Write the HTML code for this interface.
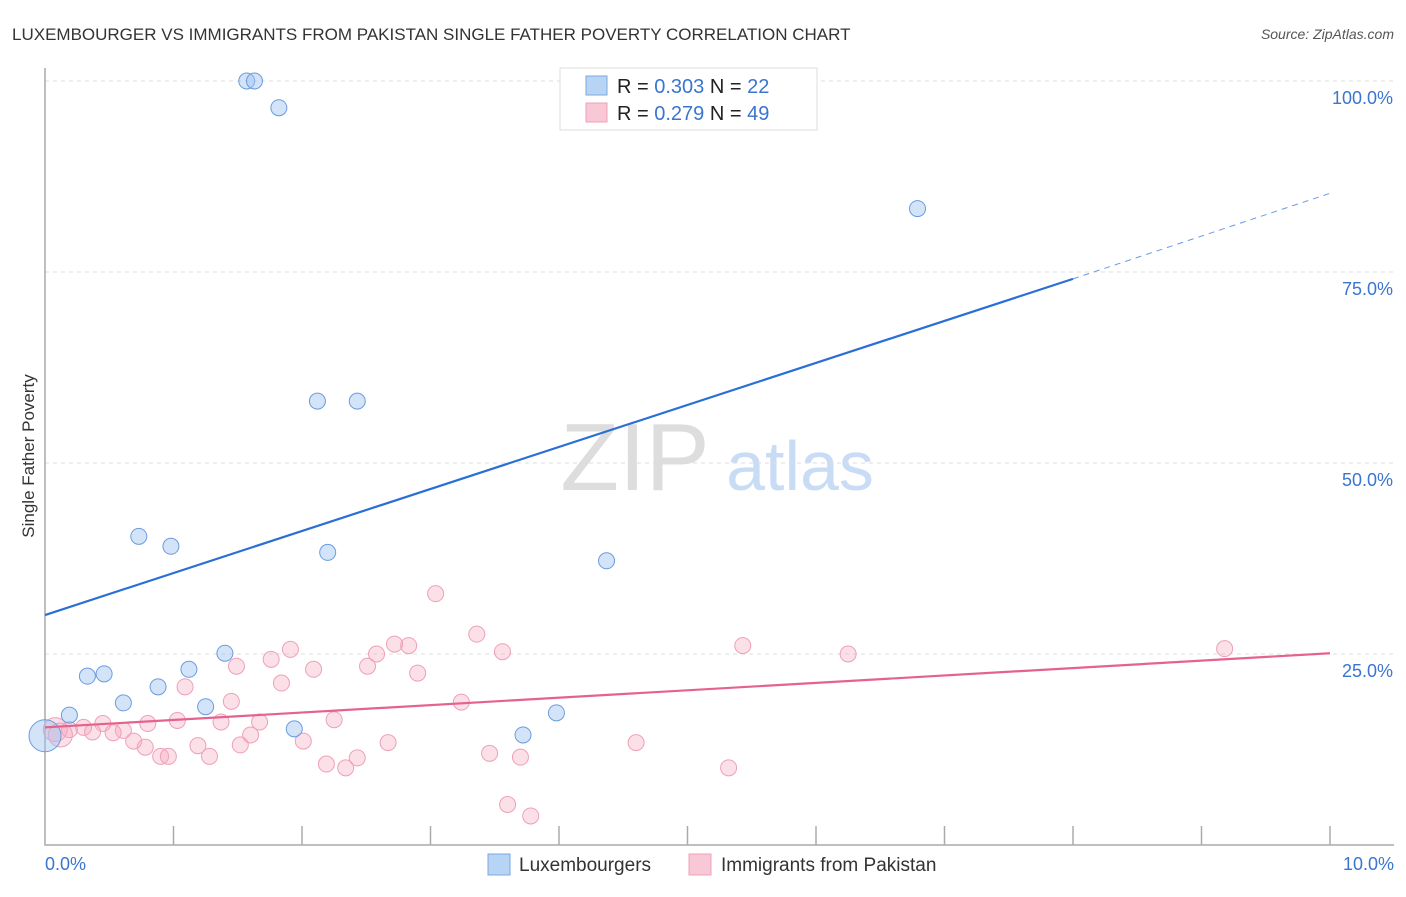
<!DOCTYPE html>
<html><head><meta charset="utf-8"><style>
body{margin:0;background:#fff;font-family:"Liberation Sans",sans-serif;}
svg text{font-family:"Liberation Sans",sans-serif;}
</style></head><body>
<svg id="c" width="1406" height="892">
<text x="12" y="40" font-size="17" fill="#333">LUXEMBOURGER VS IMMIGRANTS FROM PAKISTAN SINGLE FATHER POVERTY CORRELATION CHART</text>
<text x="1394" y="39" font-size="14" fill="#555" font-style="italic" text-anchor="end">Source: ZipAtlas.com</text>
<text x="34" y="456" font-size="17" fill="#333" text-anchor="middle" transform="rotate(-90 34 456)">Single Father Poverty</text>
<g><text x="635" y="490" font-size="96" fill="#ddd" font-family="Liberation Serif" text-anchor="middle">ZIP</text><text x="800" y="490" font-size="70" fill="#c9dcf5" text-anchor="middle">atlas</text></g>
<g id="grid"></g><g id="axes"></g><g id="pts"></g><g id="lines"></g>
<g>
<rect x="560" y="68" width="257" height="62" fill="#fff" stroke="#ddd"/>
<rect x="586" y="76" width="21" height="19" fill="#b8d4f5" stroke="#7aa8e0"/>
<rect x="586" y="103" width="21" height="19" fill="#f9c8d6" stroke="#eea0b8"/>
<text x="617" y="93" font-size="20" fill="#222">R = <tspan fill="#3a75d0">0.303</tspan>   N = <tspan fill="#3a75d0"> 22</tspan></text>
<text x="617" y="120" font-size="20" fill="#222">R = <tspan fill="#3a75d0"> 0.279</tspan>   N = <tspan fill="#3a75d0">49</tspan></text>
</g>
<g>
<rect x="488" y="854" width="22" height="21" fill="#b8d4f5" stroke="#7aa8e0"/>
<text x="519" y="871" font-size="19" fill="#333">Luxembourgers</text>
<rect x="689" y="854" width="22" height="21" fill="#f9c8d6" stroke="#eea0b8"/>
<text x="721" y="871" font-size="19" fill="#333">Immigrants from Pakistan</text>
</g>
</svg>
<script>
const yTicks=[25,50,75,100];
const yTickLabels=["25.0%","50.0%","75.0%","100.0%"];
const xTickLabels=["0.0%","10.0%"];
const luxX=[1.57,1.63,1.82,6.79,2.12,2.43,0.73,0.98,2.2,4.37,1.4,1.12,0.46,0.33,0.88,0.61,1.25,0.19,3.98,1.94,3.72,0.0];
const luxY=[100,100,96.5,83.3,58.1,58.1,40.4,39.1,38.3,37.2,25.1,23,22.4,22.1,20.7,18.6,18.1,17,17.3,15.2,14.4,14.3];
const pakX=[3.04,3.36,1.91,3.56,2.83,2.72,2.58,2.51,1.76,2.09,1.49,2.9,1.84,1.09,1.45,3.24,1.03,2.25,1.37,1.67,0.8,0.61,0.45,0.3,0.19,0.37,0.53,0.69,0.78,0.9,0.96,1.19,1.28,1.52,1.6,2.01,2.67,3.46,3.7,2.19,2.34,2.43,3.6,3.78,5.43,6.25,9.18,4.6,5.32,0.08,0.12];
const pakY=[32.9,27.6,25.6,25.3,26.1,26.3,25,23.4,24.3,23,23.4,22.5,21.2,20.7,18.8,18.7,16.3,16.4,16.1,16.1,15.9,15,15.9,15.4,15.1,14.8,14.7,13.6,12.8,11.6,11.6,13,11.6,13.1,14.4,13.6,13.4,12,11.5,10.6,10.1,11.4,5.3,3.8,26.1,25,25.7,13.4,10.1,15.1,14.4];
const luxTrend=[0,30.1,8,74.1,10,85.3];
const pakTrend=[0,15.4,10,25.1];
const X=v=>45+v*128.5, Y=v=>845-v*7.64;
const NS="http://www.w3.org/2000/svg";
function mk(t,a,p){const e=document.createElementNS(NS,t);for(const k in a)e.setAttribute(k,a[k]);p.appendChild(e);return e;}
const grid=document.getElementById('grid'),axes=document.getElementById('axes'),pts=document.getElementById('pts'),lines=document.getElementById('lines');
yTicks.forEach((t,i)=>{
 const g=mk('line',{x1:45,x2:1394,y1:Y(t),y2:Y(t),stroke:'#ddd','stroke-dasharray':'4,4'},grid);
 
 
 const l=mk('text',{x:1393,y:Y(t)+23,'font-size':18,fill:'#3a75d0','text-anchor':'end'},axes);
 l.textContent=yTickLabels[i];
 
 
});
const ax=mk('path',{d:`M45 68 V845 H1394`,stroke:'#aaa',fill:'none','stroke-width':1.5},axes);


for(let k=1;k<=10;k++){const t=mk('line',{x1:X(k),x2:X(k),y1:826,y2:845,stroke:'#aaa','stroke-width':1.5},axes);
 
 }
[[0,'start',45],[10,'end',1394]].forEach((d,i)=>{const l=mk('text',{x:d[2],y:870,'font-size':18,fill:'#3a75d0','text-anchor':d[1]},axes);l.textContent=xTickLabels[i];
 
 });
pakX.forEach((x,i)=>{const c=mk('circle',{cx:X(x),cy:Y(pakY[i]),r:i>=49?12:8,fill:'rgba(245,165,190,0.35)',stroke:'#eea0b8','stroke-width':1},pts);
 
 });
luxX.forEach((x,i)=>{const c=mk('circle',{cx:X(x),cy:Y(luxY[i]),r:i==21?16:8,fill:'rgba(160,195,240,0.45)',stroke:'#6a9be0','stroke-width':1},pts);
 
 });
let l1=mk('line',{x1:X(luxTrend[0]),y1:Y(luxTrend[1]),x2:X(luxTrend[2]),y2:Y(luxTrend[3]),stroke:'#2a6fd6','stroke-width':2.2},lines);


let l2=mk('line',{x1:X(luxTrend[2]),y1:Y(luxTrend[3]),x2:X(luxTrend[4]),y2:Y(luxTrend[5]),stroke:'#6a9be0','stroke-width':1,'stroke-dasharray':'6,5'},lines);


let l3=mk('line',{x1:X(pakTrend[0]),y1:Y(pakTrend[1]),x2:X(pakTrend[2]),y2:Y(pakTrend[3]),stroke:'#e4638e','stroke-width':2.2},lines);


</script>
</body></html>
